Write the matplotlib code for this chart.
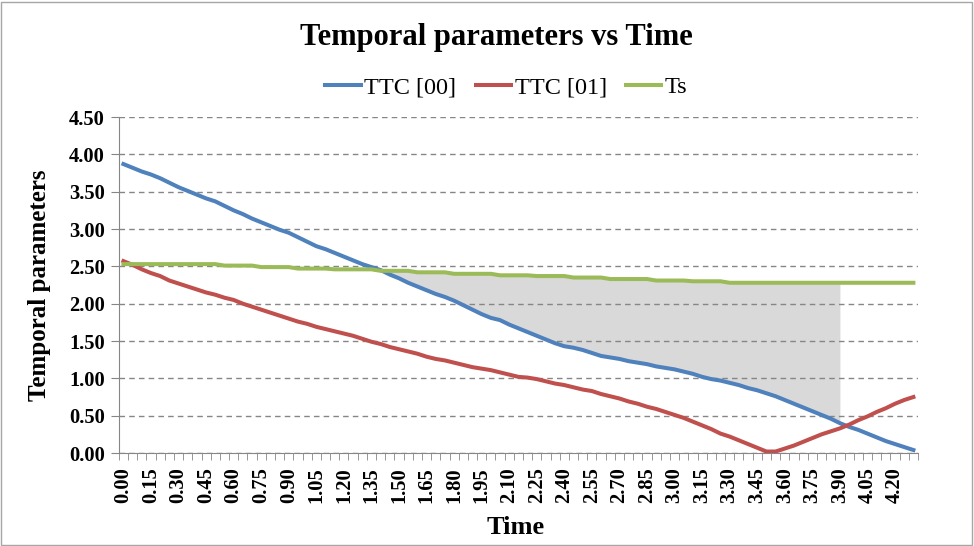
import matplotlib
matplotlib.use("Agg")
import matplotlib.pyplot as plt
import numpy as np
from matplotlib.patches import Rectangle

# Data setup (time in steps of 0.05 s)
time = [round(0.05 * k, 2) for k in range(87)]

ttc_00 = [3.87, 3.82, 3.77, 3.73, 3.68, 3.62, 3.56, 3.51, 3.46, 3.41,
          3.37, 3.31, 3.25, 3.20, 3.14, 3.09, 3.04, 2.99, 2.95, 2.89,
          2.83, 2.77, 2.73, 2.68, 2.63, 2.58, 2.53, 2.49, 2.45, 2.39,
          2.34, 2.28, 2.23, 2.18, 2.13, 2.09, 2.04, 1.98, 1.92, 1.86,
          1.81, 1.78, 1.72, 1.67, 1.62, 1.57, 1.52, 1.47, 1.43, 1.41,
          1.38, 1.34, 1.30, 1.28, 1.26, 1.23, 1.21, 1.19, 1.16, 1.14,
          1.12, 1.09, 1.06, 1.02, 0.99, 0.97, 0.94, 0.91, 0.87, 0.84,
          0.80, 0.76, 0.71, 0.66, 0.61, 0.56, 0.51, 0.46, 0.40, 0.35,
          0.31, 0.26, 0.21, 0.16, 0.12, 0.08, 0.04]

ttc_01 = [2.57, 2.52, 2.46, 2.41, 2.37, 2.31, 2.27, 2.23, 2.19, 2.15,
          2.12, 2.08, 2.05, 2.00, 1.96, 1.92, 1.88, 1.84, 1.80, 1.76,
          1.73, 1.69, 1.66, 1.63, 1.60, 1.57, 1.53, 1.49, 1.46, 1.42,
          1.39, 1.36, 1.33, 1.29, 1.26, 1.24, 1.21, 1.18, 1.15, 1.13,
          1.11, 1.08, 1.05, 1.02, 1.01, 0.99, 0.96, 0.93, 0.91, 0.88,
          0.85, 0.83, 0.79, 0.76, 0.73, 0.69, 0.66, 0.62, 0.59, 0.55,
          0.51, 0.47, 0.42, 0.37, 0.32, 0.26, 0.22, 0.17, 0.12, 0.07,
          0.02, 0.02, 0.06, 0.10, 0.15, 0.20, 0.25, 0.29, 0.33, 0.38,
          0.44, 0.49, 0.55, 0.60, 0.66, 0.71, 0.75]

ts = ([2.53] * 11 + [2.51] * 4 + [2.49] * 4 + [2.47] * 4 + [2.46] * 5 +
      [2.44] * 4 + [2.42] * 4 + [2.40] * 5 + [2.38] * 4 + [2.37] * 4 +
      [2.35] * 4 + [2.33] * 5 + [2.31] * 4 + [2.30] * 4 + [2.28] * 21)

shade_end = 3.90   # gray area stops here
y_ticks = [0.0, 0.5, 1.0, 1.5, 2.0, 2.5, 3.0, 3.5, 4.0, 4.5]

plt.rcParams['font.family'] = ['Liberation Serif', 'DejaVu Serif']

fig = plt.figure(figsize=(9.74, 5.46), dpi=100)
ax = fig.add_axes([0.122, 0.1703, 0.8205, 0.6154])

idx = np.arange(len(time))
b = np.array(ttc_00)
g = np.array(ts)
t = np.array(time)

# Shaded region between Ts and TTC [00]
ax.fill_between(idx, b, g, where=(b <= g) & (t <= shade_end + 1e-9),
                interpolate=True, color='#d9d9d9', lw=0, zorder=1)

ax.plot(idx, ttc_00, color='#4F81BD', lw=2.9, label='TTC [00]', zorder=3)
ax.plot(idx, ttc_01, color='#C0504D', lw=2.9, label='TTC [01]', zorder=3)
ax.plot(idx, ts, color='#9BBB59', lw=2.9, label='Ts', zorder=3)

ax.set_xlim(-0.5, len(time) - 0.5)
ax.set_ylim(0, 4.5)
ax.set_yticks(y_ticks)
ax.set_yticklabels([f'{v:.2f}' for v in y_ticks])
ax.set_xticks(idx[::3])
ax.set_xticklabels([f'{v:.2f}' for v in time[::3]], rotation=90)
ax.set_xticks(np.arange(len(time) + 1) - 0.5, minor=True)

ax.set_axisbelow(False)
ax.grid(axis='y', ls=(0, (4, 3)), color='#868686', lw=1, zorder=2)
for s in ['top', 'right']:
    ax.spines[s].set_visible(False)
for s in ['left', 'bottom']:
    ax.spines[s].set_color('#868686')
    ax.spines[s].set_zorder(2.5)

ax.tick_params(axis='y', length=6, color='#868686', pad=4, labelsize=14.8)
ax.tick_params(axis='x', which='major', length=0, pad=10, labelsize=14.8)
ax.tick_params(axis='x', which='minor', length=5, color='#868686')
for lab in ax.get_xticklabels() + ax.get_yticklabels():
    lab.set_fontweight('bold')

fig.text(0.51, 0.932, 'Temporal parameters vs Time', ha='center', va='center',
         fontsize=22, fontweight='bold')
fig.text(0.041, 0.478, 'Temporal parameters', rotation=90, ha='center',
         va='center', fontsize=18, fontweight='bold')
fig.text(0.529, 0.033, 'Time', ha='center', va='center',
         fontsize=19, fontweight='bold')

fig.legend(loc='center', bbox_to_anchor=(0.52, 1 - 87 / 546), ncol=3,
           frameon=False, fontsize=17.5, handlelength=1.45,
           handletextpad=0.15, columnspacing=0.8)

# Chart border
fig.patches.append(Rectangle((0.001, 0.002), 0.997, 0.995, transform=fig.transFigure,
                             fill=False, edgecolor='#a6a6a6', lw=1))

fig.savefig('out.png', dpi=100)
